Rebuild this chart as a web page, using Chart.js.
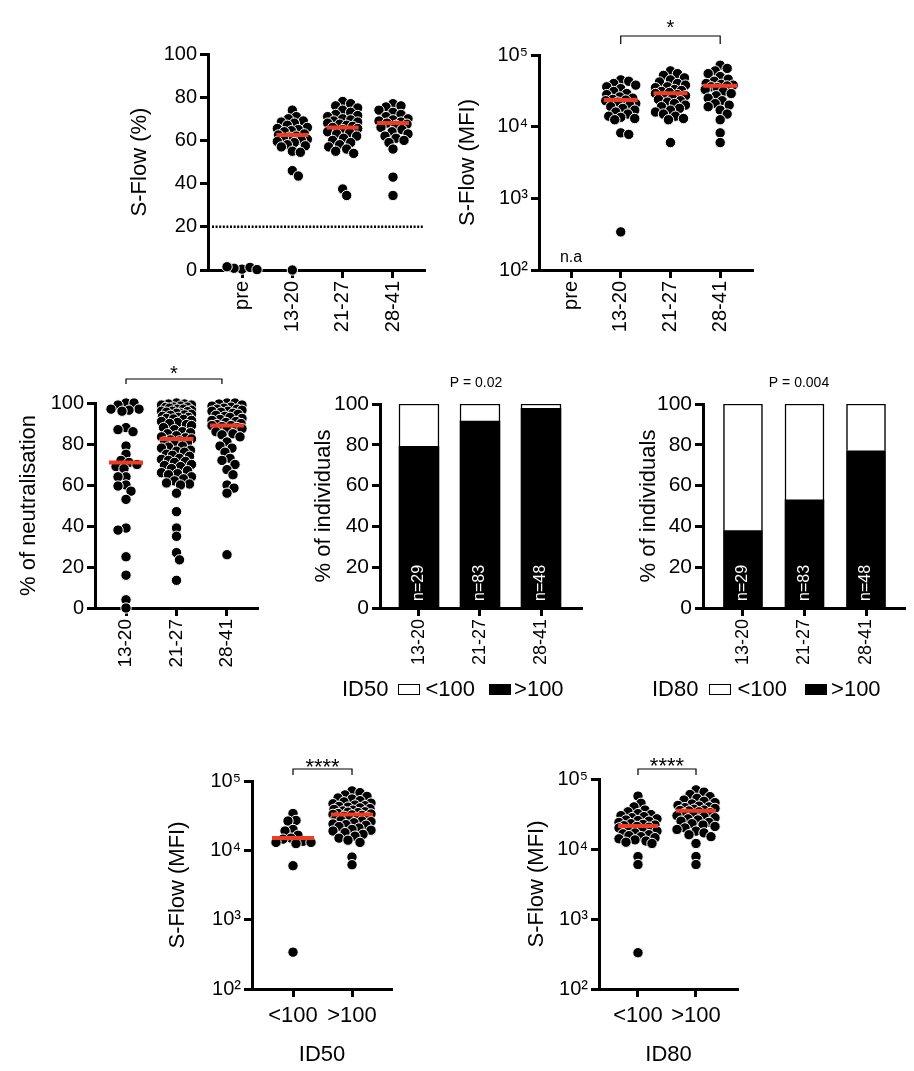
<!DOCTYPE html>
<html>
<head>
<meta charset="utf-8">
<title>S-Flow and neutralisation</title>
<script src="https://cdn.jsdelivr.net/npm/chart.js@4.4.1/dist/chart.umd.min.js"></script>
<style>
  body { margin: 0; background: #fff; width: 914px; height: 1071px; position: relative; overflow: hidden;
         font-family: 'Liberation Sans', Arial, Helvetica, sans-serif; color: #000; }
  .legend { position: absolute; display: flex; align-items: center; font-size: 22px; line-height: 26px; white-space: nowrap; }
  .legend .box { display: inline-block; width: 22px; height: 11px; border: 1px solid #000; box-sizing: border-box; }
</style>
</head>
<body>
<script>
// ---- data ----
const timeLabels = ['pre', '13-20', '21-27', '28-41'];
const dayLabels = ['13-20', '21-27', '28-41'];
const titreLabels = ['<100', '>100'];

// S-Flow (%) per time group
const sflowPctPre = [0.4, 1.2, 0.8, 0.2, 1.5];
const sflowPct1320 = [74, 71, 70, 69, 68.5, 68, 67, 66, 65.5, 65, 64.5, 64, 63, 62.5, 62, 61.5, 61, 60.5, 60, 59.5, 59, 58, 57.5, 57, 55, 54.5, 46, 43.5, 0];
const sflowPct2127 = [78, 77, 76, 75, 74, 73, 72, 71.5, 71, 70, 69.5, 69, 68.5, 68, 67.5, 67, 66.5, 66, 65.5, 65, 64, 63.5, 63, 62, 61, 60, 59, 58, 57, 56, 55, 54, 37.5, 34.5];
const sflowPct2841 = [77, 76, 75.5, 74, 73, 72, 71, 70, 69.5, 69, 68.5, 68, 67.5, 67, 66, 65, 64, 63, 62, 61, 60, 59, 56, 43, 34.5];
const sflowPctMedians = [null, 62.5, 66, 68];
const sflowCutoff = 20;

// S-Flow (MFI) per time group (pre not available)
const mfi1320 = [45000, 43000, 40000, 38000, 36000, 34000, 31000, 29000, 28000, 26000, 25000, 24000, 23500, 23000, 22000, 21000, 20000, 19000, 18000, 17000, 16000, 15000, 14000, 13500, 13000, 12500, 8200, 7800, 340];
const mfi2127 = [60000, 55000, 52000, 48000, 45000, 42000, 40000, 38000, 36000, 35000, 33000, 32000, 31000, 30000, 29000, 28000, 27000, 26000, 25000, 24000, 23000, 22000, 21000, 20000, 19000, 18000, 17000, 16000, 15000, 14000, 13000, 12500, 6000];
const mfi2841 = [72000, 65000, 60000, 55000, 50000, 46000, 43000, 40000, 39000, 38000, 37000, 36000, 35000, 33000, 31000, 29000, 27000, 25000, 23000, 21000, 20000, 19000, 17000, 15000, 12500, 8200, 6000];
const mfiMedians = [null, 23500, 29300, 37300];

// % of neutralisation
const neut1320 = [100, 100, 99, 97, 97, 96.5, 96, 88, 87, 86, 79, 75, 72, 71, 70, 69, 68, 64, 64, 60, 59.5, 57, 53, 39, 38, 25, 16, 4, 0];
const neut2127 = [100, 99.5, 99.5, 99, 99, 98.5, 98, 98, 97.8, 97.5, 97, 97, 96.5, 96, 96, 95.8, 95.5, 95, 95, 94.5, 94.2, 94, 93.5, 93, 93, 92.5, 92.2, 92, 91.5, 91, 90.5, 90, 89.5, 89, 88,
  87, 86, 85.5, 85, 84, 83.5, 83, 82.5, 82, 81.5, 81, 80.5, 80,
  79, 78.5, 78, 77, 76.5, 76, 75, 74.5, 74, 73, 72.5, 72, 71.5, 71, 70, 69.5, 69, 68, 67, 66, 65.5, 65, 64, 63, 62, 61, 60.5, 60,
  56, 47, 39, 35, 27, 23.5, 13.5];
const neut2841 = [100, 100, 99.5, 99, 98.5, 98, 97.5, 97, 97, 96.5, 96, 96, 95.5, 95, 94.5, 94, 93.5, 93, 92.5, 92, 91.5, 91, 90.5, 90, 89.5, 89, 89, 88.5, 88, 87.5, 87, 86, 85,
  84.5, 83.5, 81, 79, 78, 76, 73, 72, 70, 67.5, 65, 60, 58.5, 56, 26];
const neutMedians = [71, 82.5, 89];

// % of individuals above / below a titre of 100
const groupN = [29, 83, 48];
const id50Above = [79.3, 91.6, 97.9];
const id50Below = [20.7, 8.4, 2.1];
const id80Above = [37.9, 53.0, 77.1];
const id80Below = [62.1, 47.0, 22.9];
const id50P = 'P = 0.02';
const id80P = 'P = 0.004';

// S-Flow (MFI) split by ID50 / ID80 titre
const mfiId50Low = [34000, 27000, 26500, 20000, 19000, 16500, 15000, 14500, 13500, 13000, 13000, 12500, 6000, 340];
const mfiId50High = [72000, 68000, 63000, 60000, 57000, 55000, 52000, 50000, 48000, 47000, 45000, 44000, 43000, 42000, 41000, 40000, 39000, 38000, 37000, 36000,
  35500, 35000, 34000, 33500, 33000, 32500, 32000, 31000, 30000, 29500, 29000, 28000, 27000, 26500, 26000, 25000, 24000, 23500, 23000, 22000,
  21000, 20000, 19500, 19000, 18000, 17000, 16000, 15000, 14000, 13000, 8000, 6200];
const mfiId50Medians = [15100, 33000];
const mfiId80Low = [57000, 45000, 40000, 36000, 34000, 32000, 31000, 30000, 29000, 28000, 27000, 26000, 25500, 25000, 24000, 23000, 22500, 22000, 21500, 21000,
  20500, 20000, 19000, 18500, 18000, 17000, 16500, 16000, 15500, 15000, 14500, 14000, 13500, 13000, 12500, 12000, 7800, 6000, 330];
const mfiId80High = [70000, 65000, 60000, 56000, 53000, 50000, 48000, 46000, 44000, 42000, 41000, 40000, 39000, 38000, 37000, 36000, 35500, 35000, 34000, 33000,
  32000, 31000, 30000, 29000, 28000, 27000, 26000, 25000, 24000, 23000, 22000, 21000, 20000, 19000, 18000, 17000, 16000, 15000, 12000, 7800, 6000];
const mfiId80Medians = [21300, 35200];

// ---- drawing ----
const FONT = "'Liberation Sans', Arial, Helvetica, sans-serif";
Chart.defaults.font.family = FONT;
Chart.defaults.color = '#000';
Chart.defaults.animation = false;
Chart.defaults.plugins.legend.display = false;
Chart.defaults.plugins.tooltip.enabled = false;

const RED = '#ef3b24';
const SUP = {2: '\u00b2', 3: '\u00b3', 4: '\u2074', 5: '\u2075'};

// extra marks: cut-off line, significance brackets, small texts, n= labels
Chart.register({
  id: 'extras',
  beforeDatasetsDraw(chart, args, o) {
    if (o.cutoff == null) return;
    const {ctx, chartArea} = chart;
    const y = chart.scales.y.getPixelForValue(o.cutoff);
    ctx.save();
    ctx.strokeStyle = '#000';
    ctx.lineWidth = 2.5;
    ctx.setLineDash([2, 1.6]);
    ctx.beginPath();
    ctx.moveTo(chartArea.left + 4, y);
    ctx.lineTo(chartArea.right - 2, y);
    ctx.stroke();
    ctx.restore();
  },
  afterDraw(chart, args, o) {
    const {ctx, chartArea} = chart;
    const xs = chart.scales.x;
    ctx.save();
    (o.brackets || []).forEach(b => {
      const x1 = xs.getPixelForValue(b.from), x2 = xs.getPixelForValue(b.to);
      const y0 = chartArea.top - b.rise;
      ctx.strokeStyle = '#000';
      ctx.lineWidth = 1.2;
      ctx.beginPath();
      ctx.moveTo(x1, y0 + b.drop);
      ctx.lineTo(x1, y0);
      ctx.lineTo(x2, y0);
      ctx.lineTo(x2, y0 + b.drop);
      ctx.stroke();
      ctx.fillStyle = '#000';
      ctx.font = b.size + 'px ' + FONT;
      ctx.textAlign = 'center';
      ctx.textBaseline = 'alphabetic';
      ctx.fillText(b.label, (x1 + x2) / 2, chartArea.top + b.textY);
    });
    (o.texts || []).forEach(t => {
      ctx.fillStyle = '#000';
      ctx.font = t.size + 'px ' + FONT;
      ctx.textAlign = 'center';
      ctx.textBaseline = 'alphabetic';
      const x = t.x == null ? (chartArea.left + chartArea.right) / 2 : xs.getPixelForValue(t.x);
      const y = t.fromBottom ? chartArea.bottom + t.y : chartArea.top + t.y;
      ctx.fillText(t.text, x + (t.dx || 0), y);
    });
    if (o.nLabels) {
      ctx.fillStyle = '#fff';
      ctx.font = '16px ' + FONT;
      ctx.textAlign = 'left';
      ctx.textBaseline = 'middle';
      o.nLabels.forEach((n, i) => {
        ctx.save();
        ctx.translate(xs.getPixelForValue(i), chartArea.bottom - 7);
        ctx.rotate(-Math.PI / 2);
        ctx.fillText('n=' + n, 0, 0);
        ctx.restore();
      });
    }
    ctx.restore();
  }
});

function placeCanvas(area, yw, pt, pr, xh) {
  const c = document.createElement('canvas');
  const w = yw + area[2] - area[0] + pr, h = pt + area[3] - area[1] + xh;
  c.width = w;
  c.height = h;
  c.style.cssText = `position:absolute;left:${area[0] - yw}px;top:${area[1] - pt}px;width:${w}px;height:${h}px`;
  document.body.appendChild(c);
  return c;
}

const axisGrid = {display: true, drawOnChartArea: false, drawTicks: true, tickLength: 8, tickWidth: 3, tickColor: '#000', offset: false};
const axisBorder = {display: true, color: '#000', width: 3};

function yAxis(o) {
  return {
    type: o.log ? 'logarithmic' : 'linear',
    min: o.min, max: o.max,
    stacked: !!o.stacked,
    afterBuildTicks: s => { s.ticks = o.ticks.map(v => ({value: v})); },
    afterFit: s => { s.width = o.width; },
    border: axisBorder,
    grid: axisGrid,
    ticks: {
      font: {size: o.tickSize || 20}, padding: 3, color: '#000',
      callback: v => o.log ? '10' + SUP[Math.round(Math.log10(v))] : String(v)
    },
    title: {display: true, text: o.title, font: {size: 22}, padding: 0, color: '#000'}
  };
}

function xAxis(o) {
  return {
    type: 'linear', min: o.min, max: o.max, offset: false,
    stacked: !!o.stacked,
    afterBuildTicks: s => { s.ticks = o.labels.map((l, i) => ({value: i})); },
    afterFit: s => { s.height = o.height; },
    border: axisBorder,
    grid: axisGrid,
    ticks: {
      autoSkip: false, maxRotation: o.rot, minRotation: o.rot,
      font: {size: o.tickSize}, padding: o.pad, color: '#000',
      callback: v => o.labels[Math.round(v)]
    },
    title: o.title ? {display: true, text: o.title, font: {size: 22}, padding: 0, color: '#000'} : {display: false}
  };
}

// spread dots sideways around their category, GraphPad-style (overlap allowed)
function swarm(chart, dsIndex, maxHalf, minDist) {
  const xs = chart.scales.x, ys = chart.scales.y;
  const unit = xs.getPixelForValue(1) - xs.getPixelForValue(0);
  const placed = {};
  chart.data.datasets[dsIndex].data.forEach(p => {
    const py = ys.getPixelForValue(p.y);
    const list = placed[p.cat] || (placed[p.cat] = []);
    let best = 0, bestGap = -1, done = false;
    for (let k = 0; k <= maxHalf && !done; k++) {
      const offs = k === 0 ? [0] : (list.length % 2 ? [k, -k] : [-k, k]);
      for (const off of offs) {
        let gap = Infinity;
        list.forEach(q => { gap = Math.min(gap, Math.hypot(q[0] - off, q[1] - py)); });
        if (gap >= minDist) { best = off; done = true; break; }
        if (gap > bestGap) { bestGap = gap; best = off; }
      }
    }
    list.push([best, py]);
    p.x = p.cat + best / unit;
  });
  chart.update('none');
}

function dotPanel(p) {
  const canvas = placeCanvas(p.area, p.yw, p.pt, p.pr, p.xh);
  const dots = [];
  p.groups.forEach((vals, i) => vals.forEach(v => dots.push({x: i, y: v, cat: i})));
  const meds = [];
  p.medians.forEach((m, i) => { if (m != null) meds.push({x: i, y: m}); });
  const chart = new Chart(canvas, {
    type: 'scatter',
    data: {
      datasets: [
        {label: 'median', data: meds, order: 0, clip: false, pointStyle: 'line', pointRadius: p.medHalf,
         pointBorderWidth: 4, pointBorderColor: RED, pointBackgroundColor: RED},
        {label: 'individuals', data: dots, order: 1, clip: false, pointRadius: 5.2, pointBorderWidth: 1,
         pointBackgroundColor: '#000', pointBorderColor: '#fff'}
      ]
    },
    options: {
      responsive: false,
      layout: {autoPadding: false, padding: {top: p.pt, right: p.pr, left: 0, bottom: 0}},
      scales: {x: xAxis(p.x), y: yAxis(p.y)},
      plugins: {extras: p.extras || {}}
    }
  });
  swarm(chart, 1, p.swarmHalf, 7.5);
  return chart;
}

function barPanel(p) {
  const canvas = placeCanvas(p.area, p.yw, p.pt, p.pr, p.xh);
  const chart = new Chart(canvas, {
    type: 'bar',
    data: {
      datasets: [
        {label: '>100', data: p.above.map((v, i) => ({x: i, y: v})), backgroundColor: '#000', borderColor: '#000',
         borderWidth: 0, barThickness: p.barW},
        {label: '<100', data: p.below.map((v, i) => ({x: i, y: v})), backgroundColor: '#fff', borderColor: '#000',
         borderWidth: 1.5, barThickness: p.barW}
      ]
    },
    options: {
      responsive: false,
      layout: {autoPadding: false, padding: {top: p.pt, right: p.pr, left: 0, bottom: 0}},
      scales: {x: xAxis(Object.assign({stacked: true}, p.x)), y: yAxis(Object.assign({stacked: true}, p.y))},
      plugins: {extras: {texts: [{text: p.pText, size: 14, y: -17, dx: -5}], nLabels: groupN}}
    }
  });
  // legend below the panel, built from the datasets
  const lg = document.createElement('div');
  lg.className = 'legend';
  lg.style.left = p.legend[0] + 'px';
  lg.style.top = p.legend[1] + 'px';
  let html = `<span>${p.legendTitle}</span>`;
  [1, 0].forEach((d, k) => {
    const ds = chart.data.datasets[d];
    const ml = k === 0 ? p.legendGaps[0] : p.legendGaps[2];
    const mr = k === 0 ? p.legendGaps[1] : p.legendGaps[3];
    html += `<span class="box" style="background:${ds.backgroundColor};margin:0 ${mr}px 0 ${ml}px"></span><span>${ds.label.replace('<', '&lt;').replace('>', '&gt;')}</span>`;
  });
  lg.innerHTML = html;
  document.body.appendChild(lg);
  return chart;
}

const pctTicks = [0, 20, 40, 60, 80, 100];
const logTicks = [100, 1000, 10000, 100000];

// row 1
dotPanel({
  area: [208, 54, 425, 270], yw: 81, pt: 40, pr: 8, xh: 70, medHalf: 16, swarmHalf: 15,
  groups: [sflowPctPre, sflowPct1320, sflowPct2127, sflowPct2841], medians: sflowPctMedians,
  x: {min: -0.676, max: 3.636, labels: timeLabels, rot: 90, tickSize: 20, pad: 3, height: 70},
  y: {min: 0, max: 100, ticks: pctTicks, title: 'S-Flow (%)', width: 81},
  extras: {cutoff: sflowCutoff}
});
dotPanel({
  area: [539, 55, 753, 270], yw: 84, pt: 50, pr: 8, xh: 70, medHalf: 17, swarmHalf: 15,
  groups: [[], mfi1320, mfi2127, mfi2841], medians: mfiMedians,
  x: {min: -0.644, max: 3.66, labels: timeLabels, rot: 90, tickSize: 20, pad: 3, height: 70},
  y: {log: true, min: 100, max: 100000, ticks: logTicks, title: 'S-Flow (MFI)', width: 84},
  extras: {
    brackets: [{from: 1, to: 3, rise: 19, drop: 8, label: '*', size: 20, textY: -21}],
    texts: [{text: 'n.a', x: 0, size: 16, y: -8, fromBottom: true}]
  }
});

// row 2
dotPanel({
  area: [95, 403, 258, 608], yw: 79, pt: 45, pr: 8, xh: 70, medHalf: 17, swarmHalf: 15,
  groups: [neut1320, neut2127, neut2841], medians: neutMedians,
  x: {min: -0.614, max: 2.614, labels: dayLabels, rot: 90, tickSize: 19, pad: 3, height: 70},
  y: {min: 0, max: 100, ticks: pctTicks, title: '% of neutralisation', width: 79},
  extras: {brackets: [{from: 0, to: 1.9, rise: 24, drop: 5, label: '*', size: 20, textY: -23}]}
});
barPanel({
  area: [380, 404, 582, 608], yw: 69, pt: 35, pr: 6, xh: 70, barW: 40,
  above: id50Above, below: id50Below, pText: id50P,
  x: {min: -0.639, max: 2.672, labels: dayLabels, rot: 90, tickSize: 18, pad: 3, height: 70},
  y: {min: 0, max: 100, ticks: pctTicks, title: '% of individuals', width: 69, tickSize: 21},
  legendTitle: 'ID50', legend: [342, 676], legendGaps: [10, 5, 14, 3]
});
barPanel({
  area: [703, 404, 905, 608], yw: 67, pt: 35, pr: 6, xh: 70, barW: 39,
  above: id80Above, below: id80Below, pText: id80P,
  x: {min: -0.65, max: 2.634, labels: dayLabels, rot: 90, tickSize: 18, pad: 3, height: 70},
  y: {min: 0, max: 100, ticks: pctTicks, title: '% of individuals', width: 67, tickSize: 21},
  legendTitle: 'ID80', legend: [652, 676], legendGaps: [11, 6, 18, 4]
});

// row 3
dotPanel({
  area: [252, 781, 392, 989], yw: 87, pt: 35, pr: 8, xh: 79, medHalf: 21, swarmHalf: 19,
  groups: [mfiId50Low, mfiId50High], medians: mfiId50Medians,
  x: {min: -0.695, max: 1.678, labels: titreLabels, rot: 0, tickSize: 22, pad: 6, height: 79, title: 'ID50'},
  y: {log: true, min: 100, max: 100000, ticks: logTicks, title: 'S-Flow (MFI)', width: 87},
  extras: {brackets: [{from: 0, to: 1, rise: 12, drop: 6, label: '****', size: 22, textY: -7}]}
});
dotPanel({
  area: [599, 779, 738, 989], yw: 75, pt: 35, pr: 8, xh: 79, medHalf: 20, swarmHalf: 19,
  groups: [mfiId80Low, mfiId80High], medians: mfiId80Medians,
  x: {min: -0.672, max: 1.724, labels: titreLabels, rot: 0, tickSize: 22, pad: 6, height: 79, title: 'ID80'},
  y: {log: true, min: 100, max: 100000, ticks: logTicks, title: 'S-Flow (MFI)', width: 75},
  extras: {brackets: [{from: 0, to: 1, rise: 10, drop: 6, label: '****', size: 22, textY: -6}]}
});
</script>
</body>
</html>
